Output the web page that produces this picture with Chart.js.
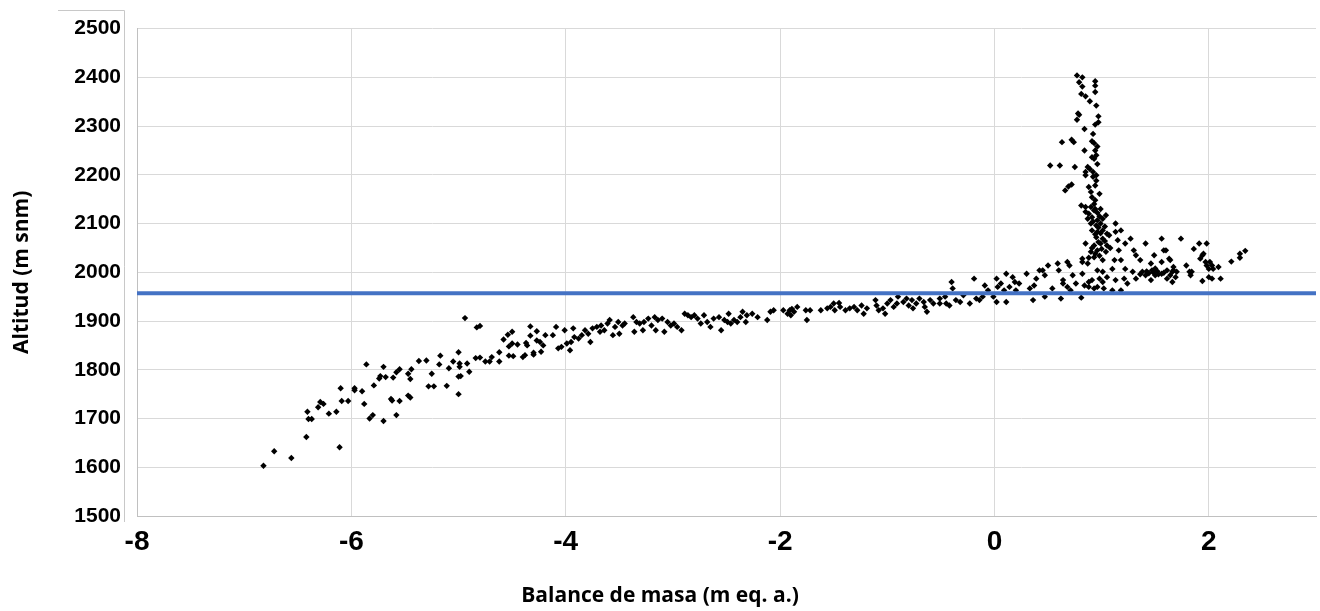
<!DOCTYPE html>
<html>
<head>
<meta charset="utf-8">
<script src="https://cdn.jsdelivr.net/npm/chart.js@4.4.1/dist/chart.umd.min.js"></script>
<style>
  body { margin: 0; background: #fff; }
</style>
</head>
<body>
<canvas id="myChart" width="1320" height="611"></canvas>
<script>
// ticks and reference line (ELA)
var xTicks = [-8, -6, -4, -2, 0, 2];
var yTicks = [1500, 1600, 1700, 1800, 1900, 2000, 2100, 2200, 2300, 2400, 2500];
var elaAltitud = 1957;
var xTitle = "Balance de masa (m eq. a.)";
var yTitle = "Altitud (m snm)";

// [balance, altitud] - lower part of the tongue
var puntosBajos = [
  [-6.82,1603],[-6.72,1633],[-6.56,1619],[-6.42,1662],[-6.41,1714],[-6.40,1699],[-6.37,1699],[-6.31,1723],
  [-6.29,1734],[-6.26,1730],[-6.21,1710],[-6.14,1714],[-6.11,1641],[-6.10,1762],[-6.09,1736],[-6.03,1736],
  [-5.97,1762],[-5.97,1758],[-5.90,1756],[-5.88,1730],[-5.86,1811],[-5.83,1700],[-5.80,1707],[-5.79,1768],
  [-5.74,1782],[-5.73,1787],[-5.70,1806],[-5.70,1695],[-5.68,1785],[-5.63,1740],[-5.62,1737],[-5.61,1784],
  [-5.58,1707],[-5.58,1795],[-5.55,1736],[-5.55,1801],[-5.47,1792],[-5.47,1747],[-5.45,1743],[-5.45,1781],
  [-5.44,1801],[-5.37,1818],[-5.30,1819],[-5.28,1766],[-5.25,1792],[-5.23,1766],[-5.18,1811],[-5.17,1829],
  [-5.11,1767],[-5.09,1803],[-5.05,1817],[-5.00,1836],[-4.99,1813],[-4.99,1806],[-5.00,1786],[-4.98,1787],
  [-5.00,1750],[-4.94,1906],[-4.92,1813],[-4.90,1796],[-4.83,1887],[-4.80,1890],[-4.84,1824],[-4.80,1825],
  [-4.75,1817],[-4.71,1817],[-4.69,1826],[-4.62,1817],[-4.62,1836],[-4.58,1862],[-4.54,1872],[-4.50,1878],
  [-4.53,1848],[-4.50,1854],[-4.53,1829],[-4.49,1828],[-4.45,1852],[-4.40,1826],[-4.38,1830],[-4.37,1855],
  [-4.36,1850],[-4.33,1889],[-4.33,1870],[-4.30,1835],[-4.30,1831],[-4.27,1879],[-4.27,1860]
];

// middle part
var puntosMedios = [
  [-4.24,1857],[-4.21,1850],[-4.19,1871],[-4.23,1837],[-4.12,1871],[-4.09,1888],[-4.07,1844],[-4.04,1847],
  [-4.01,1881],[-3.99,1854],[-3.96,1840],[-3.95,1857],[-3.93,1885],[-3.92,1867],[-3.88,1864],[-3.85,1871],
  [-3.82,1881],[-3.79,1874],[-3.77,1857],[-3.75,1885],[-3.71,1888],[-3.68,1878],[-3.67,1891],[-3.64,1881],
  [-3.61,1895],[-3.59,1902],[-3.56,1871],[-3.54,1888],[-3.51,1898],[-3.50,1874],[-3.47,1891],[-3.45,1895],
  [-3.37,1908],[-3.36,1878],[-3.34,1898],[-3.31,1895],[-3.28,1881],[-3.27,1898],[-3.23,1905],[-3.20,1891],
  [-3.17,1908],[-3.16,1881],[-3.14,1902],[-3.10,1905],[-3.08,1878],[-3.05,1898],[-3.02,1891],[-2.99,1895],
  [-2.96,1888],[-2.92,1881],[-2.89,1915],[-2.86,1912],[-2.83,1908],[-2.80,1912],[-2.77,1905],[-2.74,1895],
  [-2.71,1912],[-2.68,1898],[-2.65,1888],[-2.62,1905],[-2.57,1908],[-2.55,1881],[-2.52,1902],[-2.49,1898],
  [-2.48,1915],[-2.46,1895],[-2.43,1902],[-2.40,1898],[-2.37,1908],[-2.35,1919],[-2.32,1898],[-2.31,1912],
  [-2.26,1915],[-2.21,1908],[-2.12,1902],[-2.09,1919],[-2.06,1922],[-1.97,1922],[-1.93,1915],[-1.90,1912],
  [-1.87,1919],[-1.91,1922],[-1.89,1925],
  [-1.84,1929],[-1.76,1922],[-1.75,1902],[-1.72,1922],[-1.62,1922],[-1.56,1926],[-1.53,1929],[-1.50,1936],
  [-1.49,1922],[-1.45,1937],[-1.44,1929],[-1.39,1922],[-1.35,1926],[-1.31,1929],[-1.28,1922],[-1.24,1932],
  [-1.22,1915],[-1.19,1926],[-1.11,1943],[-1.10,1932],[-1.08,1922],[-1.04,1926],[-1.02,1915],[-1.00,1936],
  [-0.97,1943],[-0.94,1929],[-0.91,1936],[-0.90,1950],[-0.85,1939],[-0.82,1946],[-0.80,1932],[-0.77,1943],
  [-0.76,1926],[-0.73,1936],[-0.70,1946],[-0.66,1939],[-0.65,1929],[-0.63,1919],[-0.60,1943],[-0.57,1936],
  [-0.51,1946],[-0.51,1936],[-0.46,1950],[-0.45,1936],[-0.42,1932],[-0.40,1980],[-0.39,1967],[-0.36,1943],
  [-0.32,1939],[-0.29,1953],[-0.23,1936],[-0.19,1987],[-0.17,1946],[-0.14,1943],[-0.11,1950],[-0.09,1973],
  [-0.06,1963],[-0.01,1950],[0.02,1987],[0.02,1939],[0.03,1970],[0.06,1977],[0.09,1963],[0.11,1997],
  [0.11,1939],[0.14,1970],[0.17,1990],[0.19,1980],[0.20,1963],[0.23,1977],[0.30,1997],[0.33,1967],
  [0.36,1943],[0.37,1973],[0.39,1987],[0.42,2004],[0.45,2004],[0.47,1994],[0.47,1950],[0.50,2014],
  [0.54,1967]
];

// upper part (accumulation zone)
var puntosAltos = [
  [0.77,2404],[0.82,2400],[0.79,2390],[0.82,2381],[0.94,2392],[0.94,2383],[0.81,2366],[0.85,2361],
  [0.89,2351],[0.94,2370],[0.95,2342],[0.78,2326],[0.79,2323],[0.77,2313],[0.97,2320],[0.97,2308],
  [0.94,2303],[0.84,2294],[0.92,2284],[0.72,2272],[0.63,2267],[0.74,2267],[0.91,2269],[0.93,2265],
  [0.84,2250],[0.94,2250],[0.91,2236],[0.93,2233],[0.52,2219],[0.61,2219],[0.75,2216],[0.87,2216],
  [0.89,2212],[0.85,2206],[0.92,2206],[0.95,2199],[0.85,2199],[0.72,2180],[0.69,2176],[0.66,2168],
  [0.88,2175],[0.94,2178],[0.90,2165],[0.98,2161],[0.91,2154],[0.94,2148],[0.81,2137],[0.85,2134],
  [0.90,2134],[0.94,2130],[0.99,2130],
  [0.85,2124],[0.88,2120],[0.93,2127],[0.87,2110],[0.91,2113],[0.96,2107],[1.01,2110],[1.04,2117],
  [0.90,2100],[0.95,2096],[0.99,2100],[1.13,2100],[0.91,2086],[0.96,2083],[1.01,2086],[1.05,2079],
  [1.13,2083],[1.18,2086],[0.95,2072],[1.01,2069],[1.07,2076],[1.15,2066],[0.85,2059],[0.93,2055],
  [0.99,2059],[1.05,2055],[1.22,2059],[1.27,2069],[1.41,2059],[1.56,2069],[0.90,2042],[0.96,2045],
  [1.04,2042],[1.16,2045],[1.30,2045],[1.32,2035],[1.49,2035],[1.58,2045],[0.82,2028],[0.93,2031],
  [1.01,2025],[1.12,2025],[1.18,2025],[1.36,2025],[1.46,2018],[1.56,2021],[1.64,2025],[0.59,2018],
  [0.60,2004],[0.68,2021],[0.70,2014],[0.82,2021],[0.87,2018],[0.96,2004],[1.01,2001],[1.10,2007],
  [1.22,2007],[1.29,2001],[1.38,2001],[1.47,2004],[1.56,1997],[1.66,2001],[0.64,1984],[0.73,1994],
  [0.82,1997],[0.88,1980],[0.91,1984],[0.98,1987],[1.01,1980],[1.05,1990],[1.13,1984],[1.21,1987],
  [1.24,1977],[1.32,1987],[1.41,1994],[1.46,1984],[1.50,1994],[1.61,1987],[1.67,2004],[0.64,1977],
  [0.68,1970],[0.76,1977],[0.84,1973],[0.88,1970],[0.93,1967],[0.96,1970],[1.02,1967],[1.10,1963],
  [1.18,1963],[0.62,1946],[0.71,1963],[0.81,1948],
  [0.93,2140],[0.96,2122],[0.98,2115],[0.92,2104],[0.97,2092],[1.03,2094],[0.94,2078],[0.99,2080],
  [1.03,2064],[0.97,2062],[0.91,2050],[1.00,2048],[0.94,2038],[0.88,2030],[0.98,2034],[1.08,2050],
  [0.95,2188],[0.92,2196],[0.96,2222],[0.95,2240],[0.96,2258],
  [1.44,1998],[1.48,2000],[1.52,2002],[1.53,1996],[1.42,2002],[1.36,1996],[1.58,1999],[1.50,2008],
  [1.74,2069],[1.60,2045],[1.63,2028],[1.67,2011],[1.61,2004],[1.64,1994],[1.66,1980],[1.69,1990],
  [1.70,2001],[1.79,2014],[1.82,2001],[1.83,1994],[1.84,2001],[1.86,2048],[1.91,2059],[1.92,2028],
  [1.94,2035],[1.95,2038],[1.97,2021],[1.98,2059],[1.98,2014],[2.00,2007],[2.01,2021],[2.03,2014],
  [2.00,1990],[2.03,1987],[2.04,2007],[2.09,2011],[2.11,1987],[1.94,1982],[2.21,2022],[2.29,2038],
  [2.29,2030],[2.34,2044]
];

function toXY(list) {
  var out = [];
  for (var i = 0; i < list.length; i++) {
    out.push({ x: list[i][0], y: list[i][1] });
  }
  return out;
}

var puntos = toXY(puntosBajos).concat(toXY(puntosMedios)).concat(toXY(puntosAltos));

// axis titles + the grey frame left of the plot
var decoPlugin = {
  id: 'deco',
  afterDraw: function (chart) {
    var ctx = chart.ctx;
    var area = chart.chartArea;
    ctx.save();
    ctx.strokeStyle = '#c8c8c8';
    ctx.lineWidth = 1;
    ctx.beginPath();
    ctx.moveTo(58, 10.5);
    ctx.lineTo(area.left - 12.5, 10.5);
    ctx.lineTo(area.left - 12.5, area.bottom + 6);
    ctx.stroke();

    ctx.fillStyle = '#000';
    ctx.font = 'bold 21px "Open Sans"';
    ctx.textAlign = 'center';
    ctx.textBaseline = 'middle';
    ctx.fillText(xTitle, chart.width / 2, 596);

    ctx.translate(22, (area.top + area.bottom) / 2);
    ctx.rotate(-Math.PI / 2);
    ctx.fillText(yTitle, 0, 0);
    ctx.restore();
  }
};

var chart = new Chart(document.getElementById('myChart'), {
  type: 'scatter',
  data: {
    datasets: [{
      type: 'line',
      data: [{ x: -8, y: elaAltitud }, { x: 3, y: elaAltitud }],
      borderColor: '#4472C4',
      borderWidth: 4,
      pointRadius: 0,
      order: 0
    }, {
      data: puntos,
      pointStyle: 'rectRot',
      pointRadius: 3.2,
      backgroundColor: '#000',
      borderWidth: 0,
      order: 1
    }]
  },
  options: {
    responsive: false,
    animation: false,
    layout: { padding: { top: 28, right: 2 } },
    plugins: {
      legend: { display: false },
      tooltip: { enabled: false }
    },
    scales: {
      x: {
        type: 'linear',
        min: -8,
        max: 3,
        afterBuildTicks: function (scale) {
          scale.ticks = xTicks.map(function (v) { return { value: v }; });
        },
        afterFit: function (scale) { scale.height = 95; },
        grid: { color: '#d9d9d9', drawTicks: false },
        border: { color: '#c0c0c0' },
        ticks: {
          color: '#000',
          padding: 9,
          font: { family: 'Liberation Sans', size: 28, weight: 'bold' },
          callback: function (v) { return String(v); }
        }
      },
      y: {
        min: 1500,
        max: 2500,
        afterBuildTicks: function (scale) {
          scale.ticks = yTicks.map(function (v) { return { value: v }; });
        },
        afterFit: function (scale) { scale.width = 137; },
        grid: { color: '#d9d9d9', drawTicks: false },
        border: { color: '#c0c0c0' },
        ticks: {
          color: '#000',
          padding: 16,
          font: { family: 'Liberation Sans', size: 21, weight: 'bold' },
          callback: function (v) { return String(v); }
        }
      }
    }
  },
  plugins: [decoPlugin]
});
</script>
</body>
</html>
